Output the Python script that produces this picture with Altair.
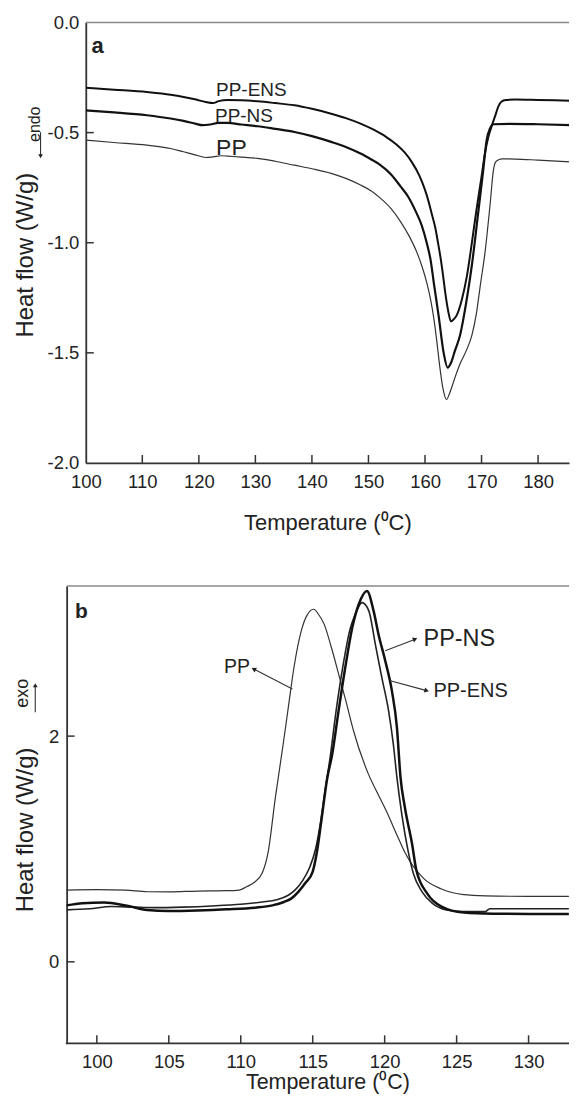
import altair as alt
import pandas as pd

FONT = "Liberation Sans"
INK = "#222222"

# ---------------- Panel a : melting (heating) curves ----------------
a_ens_t = [100, 105, 110.8, 115, 117.3, 119.5, 121.2, 122.5, 123.5, 125.1, 127.5, 130.4, 133.5, 136.9,
           140, 143.4, 146, 148.6, 151, 153.1, 155, 156.4, 157.7, 159.0, 160.0, 160.6, 161.2, 161.8,
           162.3, 162.7, 163.2, 163.6, 164.1, 164.6, 165.0, 165.6, 166.5, 167.4, 168.2, 169.1, 170.0,
           170.6, 171.2, 171.8, 172.4, 173.0, 173.5, 174.3, 176, 180, 186]
a_ens_v = [-0.296, -0.305, -0.316, -0.328, -0.338, -0.350, -0.361, -0.366, -0.357, -0.352, -0.353,
           -0.358, -0.366, -0.376, -0.392, -0.414, -0.434, -0.459, -0.488, -0.519, -0.555, -0.59,
           -0.635, -0.695, -0.76, -0.81, -0.87, -0.93, -1.0, -1.06, -1.15, -1.23, -1.31, -1.357,
           -1.35, -1.33, -1.26, -1.153, -1.017, -0.851, -0.70, -0.595, -0.52, -0.47, -0.425, -0.38,
           -0.36, -0.352, -0.350, -0.352, -0.355]

a_ns_t = [100, 105, 110.8, 115, 117.3, 119.5, 120.6, 122, 123.5, 125.1, 127.5, 130.4, 133.5, 136.9,
          140, 143.4, 146, 148.6, 150.5, 152.0, 154, 155.7, 157.0, 158.4, 159.4, 160.3, 161.0, 161.6,
          162.4, 163.3, 164.0, 164.6, 165.3, 166.2, 167.3, 168.3, 169.4, 170.3, 170.9, 171.5, 172.1,
          175, 180, 186]
a_ns_v = [-0.399, -0.408, -0.421, -0.436, -0.447, -0.460, -0.466, -0.463, -0.456, -0.456, -0.463,
          -0.471, -0.483, -0.497, -0.516, -0.542, -0.565, -0.595, -0.622, -0.645, -0.690, -0.745,
          -0.79, -0.86, -0.92, -1.0, -1.08, -1.19, -1.33, -1.50, -1.567, -1.545, -1.49, -1.42,
          -1.27, -1.10, -0.866, -0.67, -0.534, -0.481, -0.462, -0.460, -0.462, -0.466]

a_pp_t = [100, 105, 110.8, 115, 117.3, 119.5, 121.2, 122.5, 124, 125.1, 127.5, 130.4, 133.5, 136.9,
          140, 143.4, 146, 148.6, 150.5, 152.0, 154, 155.7, 157.2, 158.5, 159.5, 160.3, 161.0, 161.6,
          162.1, 162.6, 163.2, 163.8, 164.4, 165.2, 166.2, 167.3, 168.3, 169.1, 169.8, 170.6, 171.5,
          172.1, 172.6, 173.6, 176, 180, 186]
a_pp_v = [-0.534, -0.545, -0.557, -0.572, -0.587, -0.602, -0.613, -0.610, -0.605, -0.607, -0.611,
          -0.617, -0.630, -0.648, -0.664, -0.685, -0.708, -0.738, -0.765, -0.795, -0.845, -0.905,
          -0.97, -1.04, -1.11, -1.18, -1.26, -1.35, -1.45, -1.56, -1.665, -1.712, -1.68, -1.62,
          -1.55, -1.49, -1.42, -1.32, -1.19, -1.047, -0.83, -0.67, -0.63, -0.619, -0.620, -0.625,
          -0.633]

# ---------------- Panel b : crystallization (cooling) curves ----------------
b_pp_t = [97.9, 100, 102, 103.5, 105, 107, 109, 109.9, 110.4, 110.9, 111.5, 111.9, 112.4, 112.95,
          113.3, 113.7, 114.2, 114.6, 115.07, 115.4, 115.8, 116.3, 116.8, 117.3, 117.83, 118.85,
          119.6, 120.1, 120.9, 121.4, 122.7, 123.95, 125.5, 127, 130, 132.8]
b_pp_v = [0.636, 0.64, 0.635, 0.621, 0.62, 0.627, 0.63, 0.636, 0.665, 0.70, 0.79, 0.97, 1.45, 1.93,
          2.25, 2.61, 2.93, 3.07, 3.124, 3.08, 2.99, 2.785, 2.55, 2.314, 2.05, 1.67, 1.47, 1.34,
          1.11, 0.97, 0.74, 0.645, 0.595, 0.585, 0.58, 0.58]

b_ns_t = [97.9, 99.0, 100.5, 102, 103.5, 105, 107, 109, 111, 112.2, 113.0, 113.5, 114.0, 114.5,
          115.0, 115.3, 115.6, 116.0, 116.36, 116.8, 117.3, 117.75, 118.2, 118.77, 119.23, 119.57,
          120.04, 120.5, 120.85, 121.1, 121.4, 121.9, 122.2, 122.95, 123.95, 125.5, 127.5, 130, 132.8]
b_ns_v = [0.50, 0.52, 0.525, 0.50, 0.46, 0.45, 0.455, 0.465, 0.48, 0.50, 0.53, 0.56, 0.62, 0.70,
          0.80, 0.98, 1.25, 1.62, 1.843, 2.226, 2.638, 2.962, 3.168, 3.286, 3.11, 2.903, 2.668,
          2.403, 2.079, 1.637, 1.372, 1.048, 0.813, 0.606, 0.489, 0.436, 0.426, 0.424, 0.424]

b_ens_t = [97.9, 99.5, 101, 102.5, 104, 106, 108, 110, 111.5, 112.5, 113.3, 113.8, 114.3, 114.8,
           115.2, 115.5, 115.9, 116.2, 116.6, 117.1, 117.6, 117.96, 118.43, 118.9, 119.35, 119.8,
           120.27, 120.6, 120.85, 121.2, 121.6, 122.0, 122.6, 123.3, 124.3, 125.5, 127.0, 127.3,
           130, 132.8]
b_ens_v = [0.46, 0.47, 0.49, 0.485, 0.48, 0.485, 0.495, 0.51, 0.53, 0.55, 0.59, 0.64, 0.72, 0.84,
           1.0, 1.2, 1.55, 1.80, 2.2, 2.62, 2.95, 3.08, 3.183, 3.11, 2.815, 2.52, 2.226, 1.931,
           1.637, 1.30, 1.0, 0.78, 0.62, 0.52, 0.46, 0.445, 0.445, 0.47, 0.47, 0.47]

# tick values
a_xticks = [100, 110, 120, 130, 140, 150, 160, 170, 180]
a_yticks = [-2.0, -1.5, -1.0, -0.5, 0.0]
b_xticks = [100, 105, 110, 115, 120, 125, 130]
b_yticks = [0, 2]

# both panels share the same plot origin; panel b's frame starts B_SHIFT px further left
B_SHIFT = 19.2
A_W, A_H = 484.6, 441.7
B_W, B_H = 484.6, 458.7
A_X = [100, 185.47]
A_Y = [-2.0, 0.0]
B_X = [99.231, 132.81]
B_Y = [-0.722, 3.331]

LBL = 18.5


class Panel:
    def __init__(self, xs, ys, xax, yax, w, h, left=0.0):
        self.xs, self.ys, self.xax, self.yax = xs, ys, xax, yax
        self.w, self.h, self.left = w, h, left

    def X(self, f):
        return alt.X(f, scale=self.xs, axis=self.xax)

    def Y(self, f):
        return alt.Y(f, scale=self.ys, axis=self.yax)

    def curve(self, t, v, width, color, clip=True):
        df = pd.DataFrame({"t": t, "v": v})
        return alt.Chart(df).mark_line(interpolate="monotone", strokeWidth=width, color=color,
                                       strokeJoin="round", clip=clip).encode(
            x=self.X("t:Q"), y=self.Y("v:Q"))

    def inward_ticks(self, xvals, yvals, length=8):
        xt = alt.Chart(pd.DataFrame({"t": xvals})).mark_rule(color="#333333", strokeWidth=1.5).encode(
            x=self.X("t:Q"), y=alt.value(self.h), y2=alt.value(self.h - length))
        yt = alt.Chart(pd.DataFrame({"v": yvals})).mark_rule(color="#333333", strokeWidth=1.5).encode(
            y=self.Y("v:Q"), x=alt.value(self.left), x2=alt.value(self.left + length))
        return xt + yt

    def frame(self, bottom=False):
        top = alt.Chart(pd.DataFrame({"k": [0]})).mark_rule(color="#888888", strokeWidth=1.5).encode(
            x=alt.value(self.left), x2=alt.value(self.w), y=alt.value(0))
        if not bottom:
            return top
        bot = alt.Chart(pd.DataFrame({"k": [0]})).mark_rule(color="#333333", strokeWidth=1.8).encode(
            x=alt.value(self.left - 0.9), x2=alt.value(self.w), y=alt.value(self.h))
        return top + bot

    def texts(self, rows, size, align="left", weight="normal", angle=0):
        df = pd.DataFrame(rows, columns=["t", "v", "label"])
        return alt.Chart(df).mark_text(font=FONT, fontSize=size, align=align, baseline="middle",
                                       fontWeight=weight, color=INK, angle=angle).encode(
            x=self.X("t:Q"), y=self.Y("v:Q"), text="label:N")

    def arrow(self, x0, y0, x1, y1, ang, size=28):
        df = pd.DataFrame({"t": [x0], "v": [y0], "t1": [x1], "v1": [y1]})
        line = alt.Chart(df).mark_rule(color="#333333", strokeWidth=1.1).encode(
            x=self.X("t:Q"), x2="t1:Q", y=self.Y("v:Q"), y2="v1:Q")
        head = alt.Chart(df).mark_point(shape="triangle-right", filled=True, color="#222222",
                                        size=size, angle=ang, opacity=1).encode(
            x=self.X("t1:Q"), y=self.Y("v1:Q"))
        return line + head


def x_axis(values, label_pad, title_pad, title_size, domain=True):
    return alt.Axis(values=values, format="d", title="Temperature (\u2070C)", ticks=False, tickSize=0,
                    labelPadding=label_pad, labelFontSize=LBL, labelFont=FONT, labelColor=INK,
                    labelFlush=False, labelOverlap=False, domain=domain, domainColor="#333333",
                    domainWidth=1.8, grid=False, titleFont=FONT, titleFontSize=title_size,
                    titleFontWeight="normal", titleColor=INK, titlePadding=title_pad, minExtent=0)


# ---------------- build panel a ----------------
pa = Panel(
    alt.Scale(domain=A_X, nice=False, zero=False),
    alt.Scale(domain=A_Y, nice=False, zero=False),
    x_axis(a_xticks, 10, 21, 22),
    alt.Axis(values=a_yticks, labelExpr="replace(format(datum.value, '.1f'), '\u2212', '-')",
             title="Heat flow (W/g)", ticks=False, tickSize=0, labelPadding=7,
             labelFontSize=LBL, labelFont=FONT, labelColor=INK, labelFlush=False,
             labelOverlap=False, domainColor="#333333", domainWidth=1.8, grid=False,
             titleFont=FONT, titleFontSize=24, titleFontWeight="normal", titleColor=INK,
             titlePadding=10, titleY=232.8, minExtent=0),
    A_W, A_H,
)

panel_a = alt.layer(
    pa.curve(a_pp_t, a_pp_v, 1.2, "#333333"),
    pa.curve(a_ns_t, a_ns_v, 2.2, "#111111"),
    pa.curve(a_ens_t, a_ens_v, 2.0, "#111111"),
    pa.inward_ticks(a_xticks[1:], a_yticks[1:-1]),
    pa.frame(),
    pa.texts([(123.05, -0.307, "PP-ENS"), (122.86, -0.423, "PP-NS")], 19),
    pa.texts([(123.05, -0.572, "PP")], 23),
    pa.texts([(101.0, -0.105, "a")], 22, weight="bold"),
    pa.texts([(91.0, -0.462, "endo")], 16, align="center", angle=270),
    pa.arrow(92.0, -0.498, 92.0, -0.607, 90, size=22),
).properties(width=A_W, height=A_H)

# ---------------- build panel b ----------------
pb = Panel(
    alt.Scale(domain=B_X, nice=False, zero=False),
    alt.Scale(domain=B_Y, nice=False, zero=False),
    x_axis(b_xticks, 9, 1, 21.5, domain=False),
    alt.Axis(values=b_yticks, format="d", title="Heat flow (W/g)", ticks=False, tickSize=0,
             labelPadding=8, labelFontSize=LBL, labelFont=FONT, labelColor=INK,
             labelFlush=False, labelOverlap=False, domainColor="#333333", domainWidth=1.8,
             grid=False, titleFont=FONT, titleFontSize=24, titleFontWeight="normal",
             titleColor=INK, titlePadding=11.4, titleY=244.2, minExtent=0, offset=B_SHIFT),
    B_W, B_H, left=-B_SHIFT,
)

panel_b = alt.layer(
    pb.curve(b_pp_t, b_pp_v, 1.2, "#333333", clip=False),
    pb.curve(b_ens_t, b_ens_v, 1.6, "#222222", clip=False),
    pb.curve(b_ns_t, b_ns_v, 2.5, "#111111", clip=False),
    pb.inward_ticks(b_xticks, b_yticks),
    pb.frame(bottom=True),
    pb.texts([(110.64, 2.61, "PP")], 19.5, align="right"),
    pb.texts([(122.7, 2.859, "PP-NS")], 23.5),
    pb.texts([(123.39, 2.40, "PP-ENS")], 20),
    pb.texts([(98.49, 3.10, "b")], 21, weight="bold"),
    pb.texts([(94.88, 2.379, "exo")], 18, align="center", angle=270),
    pb.arrow(113.59, 2.417, 110.9, 2.594, 207),
    pb.arrow(120.04, 2.756, 122.12, 2.859, 339),
    pb.arrow(120.39, 2.491, 122.92, 2.403, 15),
    pb.arrow(95.72, 2.211, 95.72, 2.45, 270, size=22),
).properties(width=B_W, height=B_H)

chart = alt.vconcat(panel_a, panel_b, spacing=51).properties(
    padding={"left": 5, "top": 4, "right": 0, "bottom": 0}
).configure_view(strokeWidth=0)

chart.save("out.html", embed_options={"renderer": "svg", "actions": False})
